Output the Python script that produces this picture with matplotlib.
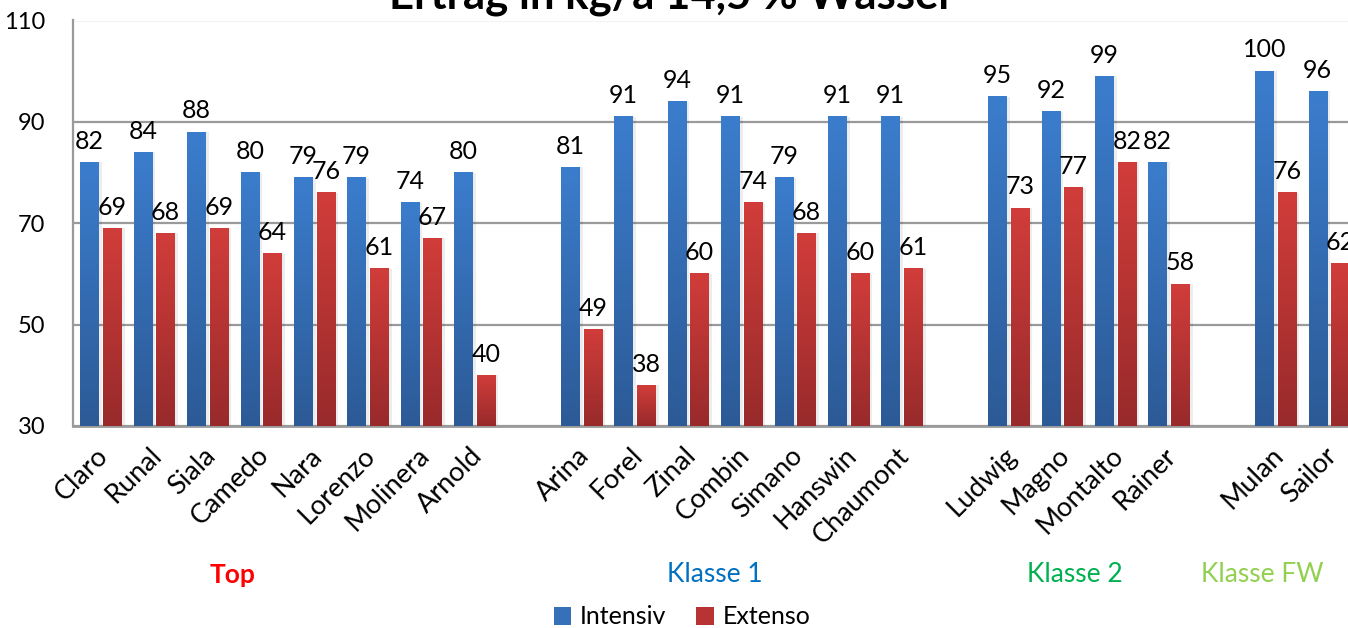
import numpy as np
import matplotlib.pyplot as plt
from matplotlib.colors import LinearSegmentedColormap
from matplotlib.patches import Patch

# ---------------- data ----------------
group_names = ["Top", "Klasse 1", "Klasse 2", "Klasse FW"]
top_varieties = ["Claro", "Runal", "Siala", "Camedo", "Nara", "Lorenzo", "Molinera", "Arnold"]
top_intensiv = [82, 84, 88, 80, 79, 79, 74, 80]
top_extenso = [69, 68, 69, 64, 76, 61, 67, 40]
k1_varieties = ["Arina", "Forel", "Zinal", "Combin", "Simano", "Hanswin", "Chaumont"]
k1_intensiv = [81, 91, 94, 91, 79, 91, 91]
k1_extenso = [49, 38, 60, 74, 68, 60, 61]
k2_varieties = ["Ludwig", "Magno", "Montalto", "Rainer"]
k2_intensiv = [95, 92, 99, 82]
k2_extenso = [73, 77, 82, 58]
fw_varieties = ["Mulan", "Sailor"]
fw_intensiv = [100, 96]
fw_extenso = [76, 62]
series_names = ["Intensiv", "Extenso"]
y_ticks = [30, 50, 70, 90, 110]
title = "Ertrag in kg/a 14,5 % Wasser"

# ---------------- style ----------------
FONT = "Lato"
plt.rcParams["font.family"] = [FONT, "DejaVu Sans"]
group_colors = ["#FF0000", "#0070C0", "#00B050", "#92D050"]
blue_cmap = LinearSegmentedColormap.from_list("b", ["#2C5A96", "#3B7DCD"])
red_cmap = LinearSegmentedColormap.from_list("r", ["#982A2B", "#D13D3A"])
grid_col = "#9A9A9A"

groups = [
    (top_varieties, top_intensiv, top_extenso),
    (k1_varieties, k1_intensiv, k1_extenso),
    (k2_varieties, k2_intensiv, k2_extenso),
    (fw_varieties, fw_intensiv, fw_extenso),
]

names, xs, ints, exts = [], [], [], []
pos = 0
for gi, (v, a, b) in enumerate(groups):
    for n, i, e in zip(v, a, b):
        names.append(n); xs.append(pos); ints.append(i); exts.append(e)
        pos += 1
    pos += 1  # empty slot between groups
xs = np.array(xs, dtype=float)

W, H, DPI = 1348, 628, 100
fig = plt.figure(figsize=(W / DPI, H / DPI), dpi=DPI)
slot = 53.4
left_px, top_px, bottom_px = 73.3, 20.5, 426.0
n_slots = 25
ax = fig.add_axes([left_px / W, 1 - bottom_px / H, n_slots * slot / W, (bottom_px - top_px) / H])
ax.set_xlim(-0.5, n_slots - 0.5)
ax.set_ylim(30, 110)

bw = 0.345
off_b, off_r = -0.195, 0.23
grad = np.linspace(0, 1, 256).reshape(-1, 1)

def draw_bars(offset, vals, cmap):
    bars = ax.bar(xs + offset, vals, width=bw, bottom=0, color="none", zorder=3)
    for b, v in zip(bars, vals):
        x0 = b.get_x(); x1 = x0 + b.get_width()
        # soft shadow
        ax.bar(b.get_x() + b.get_width() / 2 + 0.03, v, width=bw + 0.06, bottom=0,
               color="#000000", alpha=0.07, zorder=2, linewidth=0)
        ax.imshow(grad, extent=(x0, x1, 30, v), origin="lower", cmap=cmap,
                  aspect="auto", zorder=3, interpolation="bicubic")
        ax.annotate(f"{v}", (b.get_x() + b.get_width() / 2, v), xytext=(0, 7),
                    textcoords="offset points", ha="center", va="bottom",
                    fontsize=18, color="#000000", zorder=5)
    return bars

draw_bars(off_b, ints, blue_cmap)
draw_bars(off_r, exts, red_cmap)
ax.set_xlim(-0.5, n_slots - 0.5)
ax.set_ylim(30, 110)

ax.set_yticks(y_ticks)
ax.set_yticklabels([str(t) for t in y_ticks], fontsize=17)
ax.yaxis.grid(True, color=grid_col, linewidth=1.6, zorder=1)
ax.set_axisbelow(True)
ax.tick_params(axis="y", length=0, pad=20)
ax.set_xticks(xs - 0.08)
ax.set_xticklabels(names, rotation=45, ha="right", va="top", rotation_mode="anchor",
                   fontsize=19.5)
ax.tick_params(axis="x", length=0, pad=12)
for s in ["top", "right"]:
    ax.spines[s].set_visible(False)
ax.spines["left"].set_color(grid_col)
ax.spines["left"].set_linewidth(1.6)
ax.spines["bottom"].set_color(grid_col)
ax.spines["bottom"].set_linewidth(2.0)

# group labels
group_x_px = [233, 715, 1075, 1262]
for gname, gx, gc in zip(group_names, group_x_px, group_colors):
    fig.text(gx / W, 1 - 575 / H, gname, ha="center", va="center", fontsize=19,
             color=gc, fontweight="bold" if gname == "Top" else "normal")

fig.text(672 / W, 1 - 8 / H, title, ha="center", va="baseline", fontsize=31.5,
         fontweight="bold")

handles = [Patch(facecolor="#3670B8", edgecolor="none"), Patch(facecolor="#B83434", edgecolor="none")]
fig.legend(handles, series_names, loc="center", bbox_to_anchor=(682 / W, 1 - 617 / H),
           ncol=2, frameon=False, fontsize=18, handlelength=0.7, handleheight=0.7,
           handletextpad=0.35, columnspacing=1.2)

fig.savefig("out.png", dpi=DPI)
